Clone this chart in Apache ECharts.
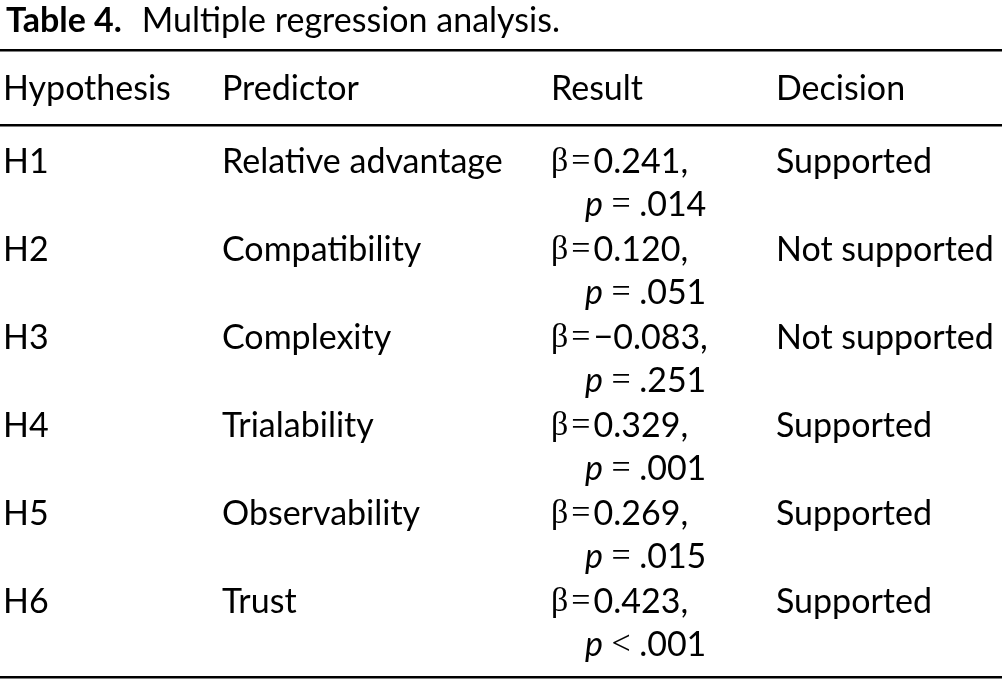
<!DOCTYPE html>
<html>
<head>
<meta charset="utf-8">
<script src="https://cdn.jsdelivr.net/npm/echarts@6/dist/echarts.min.js"></script>
<style>
  html, body { margin: 0; padding: 0; background: #fff; }
  #main { width: 1002px; height: 682px; }
</style>
</head>
<body>
<div id="main"></div>
<script>
// table content
const headers = ['Hypothesis', 'Predictor', 'Result', 'Decision']
const hypotheses = ['H1', 'H2', 'H3', 'H4', 'H5', 'H6']
const predictors = ['Relative advantage', 'Compatibility', 'Complexity', 'Trialability', 'Observability', 'Trust']
const betas = ['0.241', '0.120', '\u22120.083', '0.329', '0.269', '0.423']
const pSigns = ['=', '=', '=', '=', '=', '<']
const pValues = ['.014', '.051', '.251', '.001', '.015', '.001']
const decisions = ['Supported', 'Not supported', 'Not supported', 'Supported', 'Supported', 'Supported']

const sans = 'Lato, "Open Sans", sans-serif'
const serif = '"Liberation Serif", "DejaVu Serif", serif'
const fs = 34
// column left edges
const colX = [3, 222, 551, 776]

const chart = echarts.init(document.getElementById('main'), null, { renderer: 'canvas' })

function cell(text, x, y) {
  return {
    type: 'text',
    style: { text: text, x: x, y: y, fill: '#000', font: fs + 'px ' + sans, verticalAlign: 'middle' }
  }
}

chart.setOption({
  animation: false,
  title: {
    text: '{b|Table 4.}{n|Multiple regression analysis.}',
    left: 1,
    top: -1,
    textStyle: {
      rich: {
        b: { fontFamily: sans, fontWeight: 'bold', fontSize: 34, color: '#000', padding: [0, 20, 0, 0] },
        n: { fontFamily: sans, fontWeight: 'normal', fontSize: 34, color: '#000' }
      }
    }
  },
  grid: { left: 0, right: 0, top: 125, bottom: 29 },
  xAxis: { type: 'value', min: 0, max: 1002, show: false },
  yAxis: { type: 'category', data: hypotheses, inverse: true, show: false },
  graphic: [
    // rules
    { type: 'rect', shape: { x: 0, y: 49, width: 1002, height: 2.5 }, style: { fill: '#000' } },
    { type: 'rect', shape: { x: 0, y: 124, width: 1002, height: 2.5 }, style: { fill: '#000' } },
    { type: 'rect', shape: { x: 0, y: 676, width: 1002, height: 2.5 }, style: { fill: '#000' } },
    // header
    ...headers.map((h, i) => ({
      type: 'text',
      style: { text: h, x: colX[i], y: 89, fill: '#000', font: fs + 'px ' + sans, verticalAlign: 'middle' }
    }))
  ],
  series: [{
    type: 'custom',
    coordinateSystem: 'cartesian2d',
    data: hypotheses.map((h, i) => [0, i]),
    renderItem: function (params, api) {
      const i = params.dataIndex
      const c = api.coord([0, api.value(1)])
      const y1 = c[1] - 7
      const y2 = c[1] + 36
      return {
        type: 'group',
        children: [
          cell(hypotheses[i], colX[0], y1),
          cell(predictors[i], colX[1], y1),
          {
            type: 'text',
            style: {
              text: '{g|\u03b2}{e|=}{v|' + betas[i] + ',}',
              x: colX[2], y: y1, verticalAlign: 'middle',
              rich: {
                g: { font: fs + 'px ' + serif, fill: '#000' },
                e: { font: fs + 'px ' + serif, fill: '#000', padding: [0, 3, 0, 3] },
                v: { font: fs + 'px ' + sans, fill: '#000' }
              }
            }
          },
          {
            type: 'text',
            style: {
              text: '{p|p}{e| ' + pSigns[i] + ' }{v|' + pValues[i] + '}',
              x: colX[2] + 34, y: y2, verticalAlign: 'middle',
              rich: {
                p: { font: 'italic ' + fs + 'px ' + sans, fill: '#000' },
                e: { font: fs + 'px ' + serif, fill: '#000' },
                v: { font: fs + 'px ' + sans, fill: '#000' }
              }
            }
          },
          cell(decisions[i], colX[3], y1)
        ]
      }
    }
  }]
})
</script>
</body>
</html>
